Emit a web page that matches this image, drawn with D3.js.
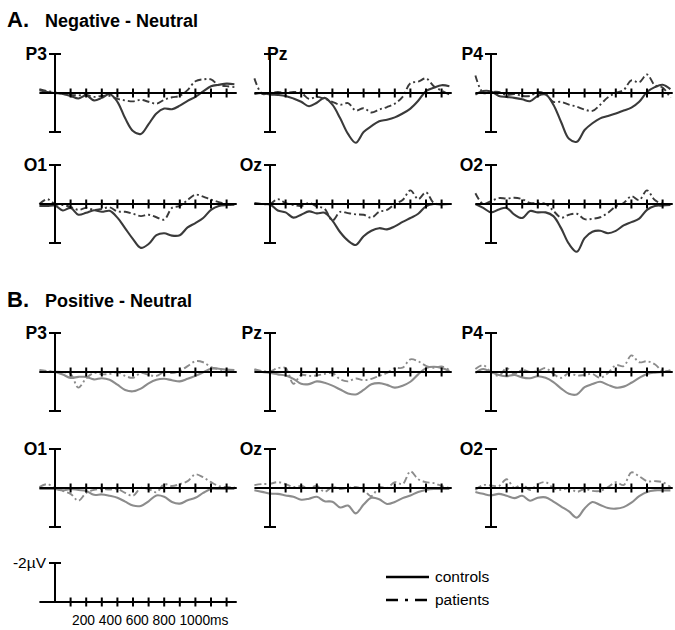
<!DOCTYPE html>
<html>
<head>
<meta charset="utf-8">
<script src="https://cdn.jsdelivr.net/npm/d3@7"></script>
<style>
  body { margin: 0; background: #fff; }
  svg { font-family: "Liberation Sans", Arial, sans-serif; }
</style>
</head>
<body>
<div id="chart"></div>
<script>
// time points (ms) shared by every waveform
const TIMES = [-100, -50, 0, 50, 100, 150, 200, 250, 300, 350, 400, 450, 500,
    550, 600, 650, 700, 750, 800, 850, 900, 950, 1000, 1050, 1100, 1150];

const SITES = ["P3", "Pz", "P4", "O1", "Oz", "O2"];
const SECTIONS = ["A", "B"];
const SECTION_TITLES = ["Negative - Neutral", "Positive - Neutral"];
const TICKS_MS = [100, 200, 300, 400, 500, 600, 700, 800, 900, 1000, 1100];
const SCALE_LABELS = [200, 400, 600, 800, 1000];
const GROUPS = ["controls", "patients"];

// difference waves in µV (positive values are drawn downwards)
// A. Negative - Neutral
const negP3Controls = [-0.14, -0.05, 0, 0.05, 0.15, 0.28, 0.12, 0.38, 0.25, 0.05, 0.45, 1.3, 1.95, 2.1, 1.6, 1.05, 0.8, 0.83, 0.65, 0.4, 0.2, -0.08, -0.35, -0.42, -0.48, -0.45];
const negP3Patients = [-0.2, -0.1, -0.03, 0.05, 0.1, 0.12, 0.1, 0.2, 0.15, 0.15, 0.3, 0.38, 0.43, 0.35, 0.45, 0.55, 0.35, 0.22, 0.15, -0.15, -0.6, -0.7, -0.7, -0.4, -0.35, -0.3];
const negPzControls = [0.05, 0, 0.08, 0.1, 0.15, 0.28, 0.45, 0.68, 0.5, 0.25, 0.6, 1.3, 2.1, 2.55, 2.0, 1.7, 1.45, 1.37, 1.25, 1.05, 0.8, 0.4, -0.1, -0.27, -0.4, -0.35];
const negPzPatients = [-0.75, 0.05, 0, -0.05, 0, -0.05, 0, 0.3, 0.2, 0.3, 0.45, 0.6, 0.52, 0.9, 0.78, 1.0, 0.85, 0.72, 0.55, 0.2, -0.5, -0.58, -0.75, -0.35, -0.12, 0.08];
const negP4Controls = [0.08, -0.1, -0.08, 0.15, 0.2, 0.25, 0.32, 0.42, 0.15, 0.08, 0.6, 1.5, 2.35, 2.5, 1.9, 1.55, 1.3, 1.18, 1.05, 0.9, 0.75, 0.45, -0.05, -0.3, -0.42, -0.2];
const negP4Patients = [-0.9, 0, -0.05, -0.05, 0.1, 0.05, 0.15, 0.15, -0.05, 0.05, 0.45, 0.45, 0.6, 0.7, 0.85, 0.92, 0.6, 0.22, 0, -0.15, -0.65, -0.55, -0.95, -0.4, -0.28, 0.25];
const negO1Controls = [0.1, 0.1, 0.08, 0.33, 0.2, 0.55, 0.45, 0.32, 0.4, 0.35, 0.7, 1.25, 1.8, 2.25, 2.05, 1.6, 1.5, 1.62, 1.6, 1.2, 0.98, 0.72, 0.3, 0.1, 0.05, 0.03];
const negO1Patients = [0, -0.25, 0, 0.05, 0.15, 0.3, 0.2, 0.3, 0.25, 0.17, 0.38, 0.4, 0.5, 0.62, 0.55, 0.68, 0.8, 0.2, 0.1, -0.2, -0.48, -0.38, -0.22, -0.1, 0, 0];
const negOzControls = [0, 0, 0.03, 0.33, 0.43, 0.7, 0.55, 0.38, 0.48, 0.45, 0.85, 1.45, 1.88, 2.1, 1.65, 1.37, 1.24, 1.3, 1.15, 0.92, 0.72, 0.5, 0.12, 0, 0.02, 0];
const negOzPatients = [-0.05, 0, 0, -0.25, -0.05, 0.05, 0.1, -0.05, 0.12, 0.25, 0.85, 0.4, 0.47, 0.53, 0.55, 0.7, 0.4, 0.3, 0, -0.2, -0.7, -0.25, -0.6, -0.05, 0, 0];
const negO2Controls = [0, 0.2, 0.43, 0.28, 0.2, 0.55, 0.72, 0.36, 0.43, 0.43, 0.62, 1.25, 2.05, 2.45, 1.75, 1.42, 1.37, 1.5, 1.38, 1.1, 0.93, 0.75, 0.3, 0.1, 0.08, 0.05];
const negO2Patients = [-0.55, 0, -0.15, -0.3, -0.28, -0.32, -0.25, -0.05, -0.05, 0, 0.35, 0.7, 0.55, 0.5, 0.78, 0.76, 0.68, 0.45, 0.12, -0.05, -0.4, -0.2, -0.7, -0.2, 0, 0];

// B. Positive - Neutral
const posP3Controls = [0, 0, 0, 0.13, 0.3, 0.25, 0.25, 0.38, 0.32, 0.4, 0.65, 0.92, 0.99, 0.85, 0.58, 0.4, 0.35, 0.42, 0.48, 0.35, 0.2, 0.02, -0.17, -0.17, -0.12, -0.1];
const posP3Patients = [-0.1, -0.05, -0.02, 0, 0.1, 0.8, 0.32, 0.05, 0.12, 0.1, 0, 0.2, 0.3, 0.05, 0.15, 0.2, 0, 0.05, -0.05, -0.3, -0.55, -0.5, -0.25, -0.15, -0.05, -0.05];
const posPzControls = [-0.1, 0, 0.05, 0.12, 0.18, 0.35, 0.6, 0.62, 0.48, 0.55, 0.7, 0.9, 1.1, 1.15, 0.92, 0.63, 0.57, 0.66, 0.8, 0.7, 0.5, 0.12, -0.2, -0.27, -0.2, -0.05];
const posPzPatients = [-0.15, -0.05, -0.03, -0.2, -0.2, 0.6, 0.15, 0.2, 0.18, 0.1, 0.05, 0.38, 0.48, 0.33, 0.42, 0.35, 0.2, 0.05, -0.2, -0.22, -0.65, -0.55, -0.32, -0.22, -0.28, -0.1];
const posP4Controls = [0.05, -0.15, 0, 0.15, 0.22, 0.15, 0.28, 0.32, 0.22, 0.3, 0.52, 0.85, 1.12, 1.15, 0.78, 0.62, 0.5, 0.66, 0.8, 0.75, 0.55, 0.3, 0.1, 0.03, 0, -0.03];
const posP4Patients = [-0.15, -0.35, 0, 0.2, -0.2, 0.1, -0.1, 0, -0.05, -0.2, 0.1, 0.3, 0.05, 0.18, 0.15, 0.1, 0.3, 0.05, -0.35, -0.3, -0.85, -0.5, -0.55, -0.4, -0.05, -0.1];
const posO1Controls = [0.05, 0.05, 0.05, 0.12, 0.05, 0.1, 0.15, 0.35, 0.33, 0.4, 0.5, 0.7, 0.9, 0.92, 0.68, 0.38, 0.45, 0.72, 0.8, 0.63, 0.5, 0.25, 0.05, 0.05, 0.05, 0.05];
const posO1Patients = [-0.05, -0.2, 0, 0.15, 0.3, 0.65, 0.25, 0.1, 0.05, 0.08, 0.05, 0.25, 0.4, 0, 0.05, 0.22, -0.2, -0.1, -0.2, -0.35, -0.7, -0.55, -0.3, -0.1, -0.05, -0.05];
const posOzControls = [0.12, 0.2, 0.29, 0.3, 0.38, 0.45, 0.6, 0.55, 0.45, 0.68, 0.7, 1.0, 0.9, 1.3, 0.85, 0.5, 0.58, 0.82, 0.72, 0.52, 0.38, 0.2, 0.1, 0.05, 0.05, 0.05];
const posOzPatients = [-0.15, -0.2, -0.22, -0.3, -0.2, -0.05, -0.1, 0, -0.1, 0.2, -0.05, 0.05, 0, -0.05, 0.1, 0.42, -0.05, 0, -0.3, -0.2, -0.85, -0.45, -0.3, -0.25, -0.1, 0];
const posO2Controls = [0.2, 0.3, 0.38, 0.3, 0.4, 0.52, 0.4, 0.65, 0.5, 0.48, 0.7, 0.95, 1.2, 1.52, 1.05, 0.72, 0.87, 1.03, 1.06, 0.98, 0.75, 0.42, 0.2, 0.12, 0.12, 0.12];
const posO2Patients = [0.1, -0.15, -0.13, -0.1, -0.45, 0, -0.2, 0.1, -0.2, -0.3, 0, 0.1, 0, 0.2, 0.05, 0.15, 0.15, -0.05, -0.3, -0.15, -0.8, -0.6, -0.35, -0.35, -0.3, -0.05];

const WAVES = {
    A: {
        P3: [negP3Controls, negP3Patients], Pz: [negPzControls, negPzPatients], P4: [negP4Controls, negP4Patients],
        O1: [negO1Controls, negO1Patients], Oz: [negOzControls, negOzPatients], O2: [negO2Controls, negO2Patients]
    },
    B: {
        P3: [posP3Controls, posP3Patients], Pz: [posPzControls, posPzPatients], P4: [posP4Controls, posP4Patients],
        O1: [posO1Controls, posO1Patients], Oz: [posOzControls, posOzPatients], O2: [posO2Controls, posO2Patients]
    }
};

// layout
const W = 675, H = 630;
const COL_X = [55, 270, 491];            // zero-ms axis for each column
const ROW_BASE = [93, 204, 372, 488];    // zero-µV line for each row
const HALF = 39;                         // px for 2 µV
const PX_PER_MS = 0.156;
const LINE_COLORS = { A: "#3a3a3a", B: "#8c8c8c" };
const DASH = "7,3,2,3";

const svg = d3.select("#chart").append("svg")
    .attr("width", W)
    .attr("height", H);

function makeScales(axisX, baseY) {
    const x = d3.scaleLinear().domain([0, 1000]).range([axisX, axisX + 1000 * PX_PER_MS]);
    const y = d3.scaleLinear().domain([-2, 2]).range([baseY - HALF, baseY + HALF]);
    return { x, y };
}

// axis with -2/+2 caps and ms ticks
function drawAxes(g, x, y, withBottom) {
    g.append("line")
        .attr("x1", x(-100)).attr("x2", x(1165))
        .attr("y1", y(0)).attr("y2", y(0))
        .attr("stroke", "#000").attr("stroke-width", 2);

    g.selectAll(".tick")
        .data(TICKS_MS)
        .enter()
        .append("line")
        .attr("x1", d => x(d)).attr("x2", d => x(d))
        .attr("y1", y(0) - 4.5).attr("y2", y(0) + 4.5)
        .attr("stroke", "#000").attr("stroke-width", 2);

    g.append("line")
        .attr("x1", x(0)).attr("x2", x(0))
        .attr("y1", y(-2)).attr("y2", withBottom ? y(2) : y(0))
        .attr("stroke", "#000").attr("stroke-width", 2);

    const caps = withBottom ? [-2, 2] : [-2];
    g.selectAll(".cap")
        .data(caps)
        .enter()
        .append("line")
        .attr("x1", x(0) - 6).attr("x2", x(0) + 6)
        .attr("y1", d => y(d)).attr("y2", d => y(d))
        .attr("stroke", "#000").attr("stroke-width", 2);
}

// section titles
SECTIONS.forEach((sec, i) => {
    const t = svg.append("text")
        .attr("x", 7)
        .attr("y", i === 0 ? 27 : 307)
        .attr("font-weight", "bold");
    t.append("tspan").attr("font-size", 22).text(sec + ".");
    t.append("tspan").attr("x", 45).attr("font-size", 18).text(SECTION_TITLES[i]);
});

// panels
SECTIONS.forEach((sec, si) => {
    SITES.forEach((site, k) => {
        const col = k % 3;
        const row = si * 2 + Math.floor(k / 3);
        const { x, y } = makeScales(COL_X[col], ROW_BASE[row]);
        const g = svg.append("g").attr("class", "panel");

        const line = d3.line()
            .x((d, i) => x(TIMES[i]))
            .y(d => y(d))
            .curve(d3.curveCatmullRom.alpha(0.5));

        WAVES[sec][site].forEach((vals, gi) => {
            g.append("path")
                .datum(vals)
                .attr("d", line)
                .attr("fill", "none")
                .attr("stroke", LINE_COLORS[sec])
                .attr("stroke-width", gi === 0 ? 2.1 : 1.9)
                .attr("stroke-dasharray", gi === 0 ? null : DASH);
        });

        drawAxes(g, x, y, true);

        // the Pz label of section A sits on the axis in the original
        const onAxis = sec === "A" && site === "Pz";
        g.append("text")
            .attr("x", onAxis ? x(0) - 3 : x(0) - 8)
            .attr("y", y(-2) + 6)
            .attr("text-anchor", onAxis ? "start" : "end")
            .attr("font-size", 17.5)
            .attr("font-weight", "bold")
            .text(site);
    });
});

// scale bar
const sb = makeScales(55, 602);
const sbg = svg.append("g").attr("class", "scale-bar");
drawAxes(sbg, sb.x, sb.y, false);

sbg.append("text")
    .attr("x", sb.x(0) - 9)
    .attr("y", sb.y(-2) + 5)
    .attr("text-anchor", "end")
    .attr("font-size", 15.5)
    .text("-2µV");

// the ms labels are one run of text under the ticks
sbg.append("text")
    .attr("class", "ms-label")
    .attr("x", 72)
    .attr("y", 625)
    .attr("font-size", 13.8)
    .text(SCALE_LABELS.join(" ") + "ms");

// legend
const legend = svg.append("g").attr("class", "legend");
GROUPS.forEach((grp, i) => {
    const ly = 577 + i * 23;
    legend.append("line")
        .attr("x1", 386).attr("x2", 429)
        .attr("y1", ly).attr("y2", ly)
        .attr("stroke", "#000")
        .attr("stroke-width", 2.5)
        .attr("stroke-dasharray", i === 0 ? null : "12,7,3,7");
    legend.append("text")
        .attr("x", 435)
        .attr("y", ly + 5)
        .attr("font-size", 15.5)
        .text(grp);
});
</script>
</body>
</html>
